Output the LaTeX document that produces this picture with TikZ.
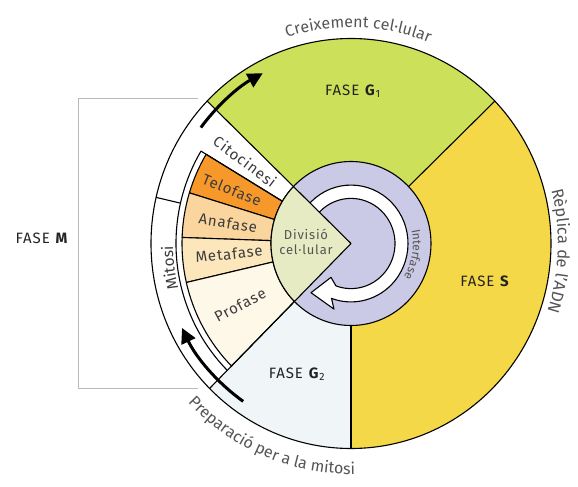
\documentclass[tikz,border=0pt]{standalone}
\usepackage{fontspec}
\setmainfont{Fira Sans}
\newfontfamily\lsfont[LetterSpace=6]{Fira Sans}
\usetikzlibrary{arrows.meta,decorations.text}
\definecolor{gone}{RGB}{205,224,90}
\definecolor{sph}{RGB}{245,216,72}
\definecolor{gtwo}{RGB}{240,245,247}
\definecolor{inter}{RGB}{202,202,230}
\definecolor{divc}{RGB}{230,235,196}
\definecolor{telo}{RGB}{246,152,42}
\definecolor{ana}{RGB}{250,214,158}
\definecolor{meta}{RGB}{252,231,188}
\definecolor{pro}{RGB}{253,248,232}
\definecolor{txt}{RGB}{35,35,35}
\definecolor{phtxt}{RGB}{60,60,60}
\definecolor{ltxt}{RGB}{85,85,85}
\definecolor{brk}{RGB}{185,185,185}
\begin{document}
\begin{tikzpicture}[x=1pt,y=1.025pt,line join=round,
  outl/.style={draw=black,line width=1.1pt},
  fase/.style={font=\lsfont\fontsize{15}{17}\selectfont,text=txt,inner sep=0pt},
  phlab/.style={font=\lsfont\fontsize{15}{17}\selectfont,text=phtxt,inner sep=0pt},
  bigarrow/.style={line width=3pt,-{Triangle[length=15pt,width=15pt]}},
  brkline/.style={draw=brk,line width=1pt}]
\useasboundingbox (-351,-236.59) rectangle (227,237.56);
% main sectors
\fill[gone] (0,0) -- (44:200) arc[start angle=44,end angle=136,radius=200] -- cycle;
\fill[sph] (0,0) -- (-90:200) arc[start angle=-90,end angle=44,radius=200] -- cycle;
\fill[gtwo] (0,0) -- (225:200) arc[start angle=225,end angle=270,radius=200] -- cycle;
\fill[white] (0,0) -- (136:200) arc[start angle=136,end angle=225,radius=200] -- cycle;
% mitosis phases
\filldraw[fill=telo,outl] (0,0) -- (149:169) arc[start angle=149,end angle=163,radius=169] -- cycle;
\filldraw[fill=ana,outl] (0,0) -- (163:169) arc[start angle=163,end angle=178,radius=169] -- cycle;
\filldraw[fill=meta,outl] (0,0) -- (178:169) arc[start angle=178,end angle=193,radius=169] -- cycle;
\filldraw[fill=pro,outl] (0,0) -- (193:169) arc[start angle=193,end angle=225,radius=169] -- cycle;
% frame and mitosi band
\draw[outl] (149:80) -- (149:175) arc[start angle=149,end angle=225,radius=175];
\draw[outl] (167:175) -- (167:200);
\draw[outl] (136:80) -- (136:200);
\draw[outl] (225:80) -- (225:200);
\draw[outl] (44:80) -- (44:200);
\draw[outl] (270:80) -- (270:200);
% interphase disc
\filldraw[fill=inter,outl] (0,0) circle[radius=80];
% white circular arrow
\filldraw[fill=white,outl] (140:57) arc[start angle=140,end angle=-110,radius=57]
  -- (-17,-64) -- (-40,-48) -- (-20,-33) -- (-110:44)
  arc[start angle=-110,end angle=140,radius=44] -- cycle;
% division sector
\filldraw[fill=divc,outl] (0,0) -- (136:80) arc[start angle=136,end angle=225,radius=80] -- cycle;
% outer circle
\draw[outl] (0,0) circle[radius=200];
% black arrows
\draw[bigarrow] (235:188) arc[start angle=235,end angle=206,radius=188];
\draw[bigarrow] (143:188) arc[start angle=143,end angle=118,radius=188];
% phase labels
\node[fase] (g1) at (2,148.8) {FASE \textbf{G}\textsubscript{1}};
\node[fase] (s) at (134,-36.6) {FASE \textbf{S}};
\node[fase] (g2) at (-54,-127.3) {FASE \textbf{G}\textsubscript{2}};
\node[fase] (m) at (-309,5.4) {FASE \textbf{M}};
\node[font=\lsfont\fontsize{13}{14.5}\selectfont,text=ltxt,align=center,inner sep=0pt] (div) at (-45,1.5) {Divisió\\cel·lular};
\node[phlab,rotate=-37] (cito) at (-106,80) {Citocinesi};
\node[phlab,rotate=-22] (telo) at (-119,52.2) {Telofase};
\node[phlab,rotate=-9] (ana) at (-123,20) {Anafase};
\node[phlab,rotate=6] (meta) at (-122,-10.2) {Metafase};
\node[phlab,rotate=28] (pro) at (-111,-60) {Profase};
% curved labels
\path[decorate,decoration={text along path,text align=center,
  text={|\fontsize{16}{18}\selectfont\color{ltxt}|Creixement cel·lular}}]
  (130:211) arc[start angle=130,end angle=46,radius=211];
\path[decorate,decoration={text along path,text align=center,
  text={|\fontsize{16.5}{18}\selectfont\color{ltxt}|Rèplica de l'ADN}}]
  (40:207) arc[start angle=40,end angle=-44,radius=207];
\path[decorate,decoration={text along path,text align=center,
  text={|\fontsize{16}{18}\selectfont\color{ltxt}|Preparació per a la mitosi}}]
  (198:225) arc[start angle=198,end angle=297,radius=225];
\path[decorate,decoration={text along path,text align=center,
  text={|\fontsize{12}{14}\selectfont\color{ltxt}|Interfase}}]
  (60:62) arc[start angle=60,end angle=-80,radius=62];
\path[decorate,decoration={text along path,text align=center,
  text={|\fontsize{15.5}{17}\selectfont\color{phtxt}|Mitosi}}]
  (207:178) arc[start angle=207,end angle=168,radius=178];
% bracket for phase M
\coordinate (bt) at (-153,141);
\coordinate (bb) at (-153,-141);
\coordinate (btl) at (-272,141);
\coordinate (bbl) at (-272,-141);
\draw[brkline] (bt) -- (btl) -- (bbl) -- (bb);
\end{tikzpicture}
\end{document}
